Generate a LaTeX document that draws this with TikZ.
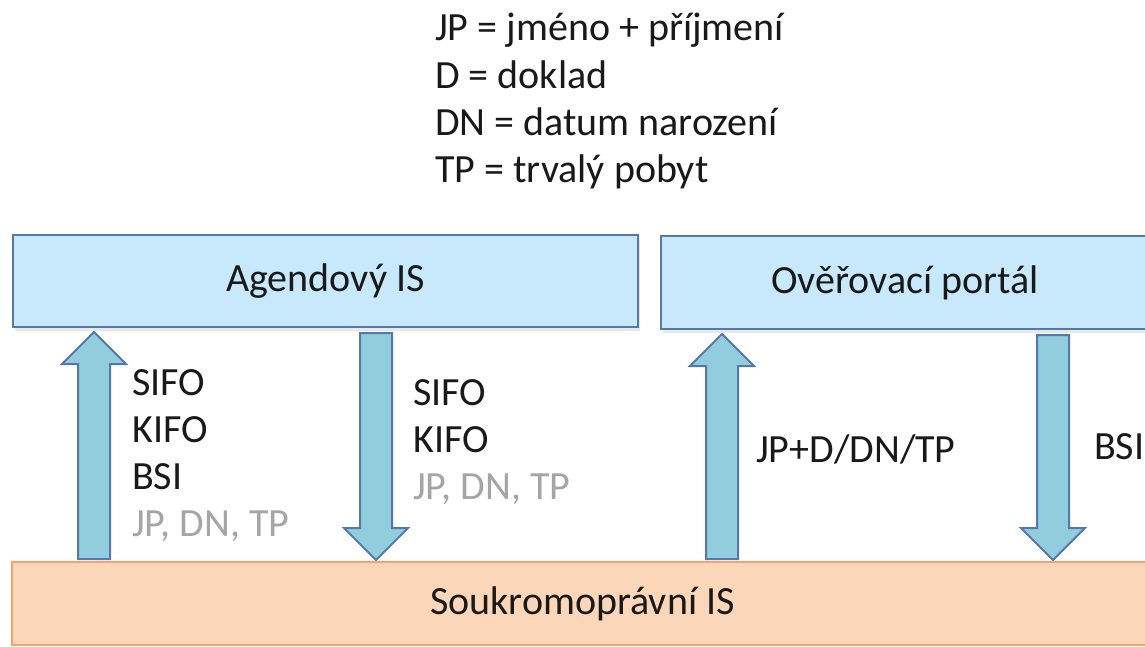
\documentclass[tikz,border=0pt]{standalone}
\usepackage{fontspec}
\setmainfont{Carlito}
\usetikzlibrary{calc,shadows}
\definecolor{boxfill}{RGB}{199,233,251}
\definecolor{boxline}{RGB}{84,120,172}
\definecolor{arrfill}{RGB}{146,205,221}
\definecolor{orfill}{RGB}{251,214,184}
\definecolor{orline}{RGB}{246,162,104}
\definecolor{softgray}{RGB}{165,165,165}
\definecolor{ink}{RGB}{25,25,25}
\newcommand\blockup[3]{\draw[blockarrow] let \p1=(#2.north -| #1), \p2=(#3.south -| #1) in
 (\x1-16pt,\y1+2pt) -- (\x1-16pt,\y2-36pt) -- (\x1-32pt,\y2-36pt) -- (\x1,\y2-4pt) --
 (\x1+32pt,\y2-36pt) -- (\x1+16pt,\y2-36pt) -- (\x1+16pt,\y1+2pt) -- cycle;}
\newcommand\blockdown[3]{\draw[blockarrow] let \p1=(#2.south -| #1), \p2=(#3.north -| #1) in
 (\x1-16pt,\y1-5pt) -- (\x1-16pt,\y2+33pt) -- (\x1-32pt,\y2+33pt) -- (\x1,\y2+1pt) --
 (\x1+32pt,\y2+33pt) -- (\x1+16pt,\y2+33pt) -- (\x1+16pt,\y1-5pt) -- cycle;}
\begin{document}
\begin{tikzpicture}[x=1pt,y=-1pt,
  every node/.style={font=\fontsize{40}{47}\selectfont, text=ink},
  bluebox/.style={draw=boxline, line width=2pt, fill=boxfill,
     drop shadow={opacity=0.18, shadow xshift=2pt, shadow yshift=-4pt}},
  orbox/.style={draw=orline, line width=2pt, fill=orfill},
  blockarrow/.style={draw=boxline, line width=2pt, fill=arrfill, line join=miter},
  lbl/.style={anchor=base west, inner sep=0pt},
  glbl/.style={lbl, text=softgray}]
\useasboundingbox (0,0) rectangle (1145,646);
\fill[white] (0,0) rectangle (1145,646);
\clip (0,0) rectangle (1145,646);

% legend
\node[lbl] (l1) at (435,40) {JP = jméno + příjmení};
\node[lbl] (l2) at (435,88) {D = doklad};
\node[lbl] (l3) at (435,135) {DN = datum narození};
\node[lbl] (l4) at (435,182) {TP = trvalý pobyt};

% boxes
\node[bluebox, minimum width=625, minimum height=92] (agenda) at (325.5,281) {Agendový IS};
\node[bluebox, minimum width=488, minimum height=93] (portal) at (905,282.5) {Ověřovací portál};
\node[orbox, minimum width=1141, minimum height=83] (priv) at (582.5,603.5) {Soukromoprávní IS};

% arrows
\coordinate (c1) at (94,0);
\coordinate (c2) at (376,0);
\coordinate (c3) at (722,0);
\coordinate (c4) at (1053,0);
\blockup{c1}{priv}{agenda}
\blockdown{c2}{agenda}{priv}
\blockup{c3}{priv}{portal}
\blockdown{c4}{portal}{priv}

% labels
\node[lbl] (a1) at (132,395) {SIFO};
\node[lbl] (a2) at (132,442) {KIFO};
\node[lbl] (a3) at (132,489) {BSI};
\node[glbl] (a4) at (132,536) {JP, DN, TP};

\node[lbl] (b1) at (413,405) {SIFO};
\node[lbl] (b2) at (413,452) {KIFO};
\node[glbl] (b3) at (413,499) {JP, DN, TP};

\node[lbl] (c) at (756,462) {JP+D/DN/TP};
\node[lbl] (d) at (1094,459) {BSI};
\end{tikzpicture}
\end{document}
